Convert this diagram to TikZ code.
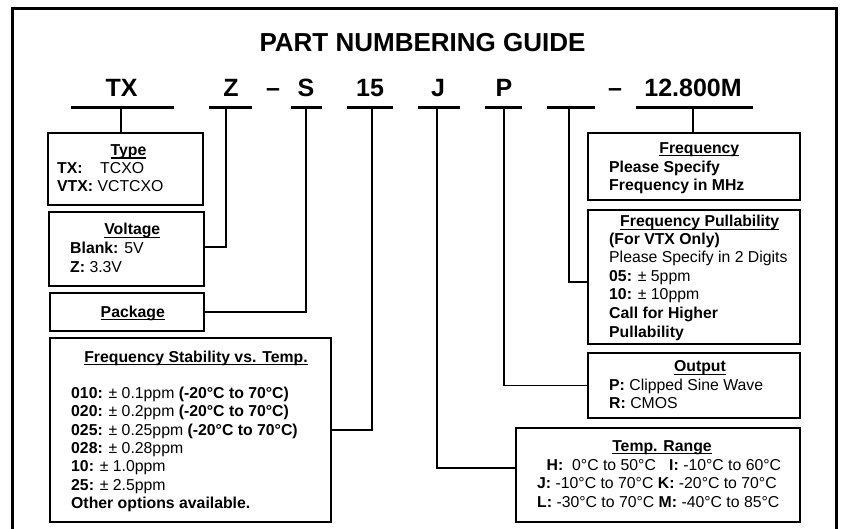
\documentclass[tikz,border=0pt]{standalone}
\usepackage{fontspec}
\setmainfont{Liberation Sans}
\newsavebox{\ulbox}
\newcommand{\Uline}[1]{\sbox{\ulbox}{#1}\rlap{\rule[-3.2pt]{\wd\ulbox}{1.3pt}}\usebox{\ulbox}}
\newcommand{\Tline}[4]{\node[txt] (#1) at (#2,#3) {#4};}
\newcommand{\Thead}[4]{\node[hd] (#1) at (#2,#3) {\Uline{#4}};}
\tikzset{
  frame/.style={line width=3pt, line join=miter},
  box/.style={draw, line width=2.5pt, inner sep=0pt, outer sep=0pt, anchor=north west},
  conn/.style={line width=1.5pt},
  uline/.style={line width=3pt},
  part/.style={font=\fontsize{25}{30}\selectfont\bfseries, inner sep=0pt, anchor=base},
  ttl/.style={font=\fontsize{26}{30}\selectfont\bfseries, inner sep=0pt, anchor=base},
  txt/.style={font=\fontsize{15.8}{18}\selectfont, inner sep=0pt, anchor=base west},
  hd/.style={font=\fontsize{15.8}{18}\selectfont\bfseries, inner sep=0pt, anchor=base},
}
\begin{document}
\begin{tikzpicture}[x=1pt, y=-1pt]
\useasboundingbox (0,0) rectangle (843,529);
% outer frame (open at the bottom)
\draw[frame] (12,531) -- (12,8.5) -- (836,8.5) -- (836,531);
% title
\node[ttl] (title) at (422.5,52) {PART NUMBERING GUIDE};
% part number row
\node[part] (pTX) at (121.5,97) {TX};
\node[part] (pZ) at (231,97) {Z};
\node[part] (pd1) at (273,97) {–};
\node[part] (pS) at (306,97) {S};
\node[part] (p15) at (370,97) {15};
\node[part] (pJ) at (438,97) {J};
\node[part] (pP) at (504,97) {P};
\node[part] (pd2) at (615,97) {–};
\node[part] (pM) at (693,97) {12.800M};
% underlines
\draw[uline] (71,107.3) -- (174,107.3);
\draw[uline] (209,107.3) -- (252,107.3);
\draw[uline] (291,107.3) -- (322,107.3);
\draw[uline] (347,107.3) -- (393,107.3);
\draw[uline] (418,107.3) -- (460,107.3);
\draw[uline] (485,107.3) -- (522,107.3);
\draw[uline] (547,107.3) -- (595,107.3);
\draw[uline] (636,107.3) -- (753,107.3);
% connector start points
\coordinate (cTX) at (121,107.3);
\coordinate (cZ) at (226,107.3);
\coordinate (cS) at (306,107.3);
\coordinate (c15) at (372,107.3);
\coordinate (cJ) at (437,107.3);
\coordinate (cP) at (504,107.3);
\coordinate (cB) at (569,107.3);
\coordinate (cM) at (693,107.3);
% boxes
\node[box, minimum width=155pt, minimum height=72pt] (type) at (48,133) {};
\node[box, minimum width=155pt, minimum height=74pt] (voltage) at (49,212) {};
\node[box, minimum width=154pt, minimum height=38pt] (package) at (50,293) {};
\node[box, minimum width=281pt, minimum height=184pt] (stab) at (50,338) {};
\node[box, minimum width=212pt, minimum height=67pt] (freq) at (588,133) {};
\node[box, minimum width=212pt, minimum height=134pt] (pull) at (588,210) {};
\node[box, minimum width=212pt, minimum height=65pt] (output) at (588,353) {};
\node[box, minimum width=284pt, minimum height=94pt] (temp) at (516,428) {};
% connectors
\draw[conn] (cTX) -- (cTX |- type.north);
\draw[conn] (cZ) |- ([yshift=2pt]voltage.east);
\draw[conn] (cS) |- (package.east);
\draw[conn] (c15) |- (stab.east);
\draw[conn] (cJ) |- ([yshift=7pt]temp.west);
\draw[conn] (cP) |- (output.west);
\draw[conn] (cB) |- ([yshift=-5pt]pull.west);
\draw[conn] (cM) -- (cM |- freq.north);
% Type
\Thead{hType}{128.5}{155.5}{Type}
\Tline{ty1}{57}{173.5}{\makebox[43pt][l]{\bfseries TX:}TCXO}
\Tline{ty2}{57}{192}{\textbf{VTX:} VCTCXO}
% Voltage
\Thead{hVolt}{132.3}{235}{Voltage}
\Tline{v1}{70}{254}{\textbf{Blank:} 5V}
\Tline{v2}{70}{272.5}{\textbf{Z:} 3.3V}
% Package
\Thead{hPack}{132.8}{317}{Package}
% Frequency stability
\Thead{hStab}{196}{362}{Frequency Stability vs. Temp.}
\Tline{s1}{71}{398}{\textbf{010:} ± 0.1ppm \textbf{(-20°C to 70°C)}}
\Tline{s2}{71}{416.5}{\textbf{020:} ± 0.2ppm \textbf{(-20°C to 70°C)}}
\Tline{s3}{71}{435}{\textbf{025:} ± 0.25ppm \textbf{(-20°C to 70°C)}}
\Tline{s4}{71}{453.3}{\textbf{028:} ± 0.28ppm}
\Tline{s5}{71}{471.7}{\textbf{10:} ± 1.0ppm}
\Tline{s6}{71}{490}{\textbf{25:} ± 2.5ppm}
\Tline{s7}{71}{508.3}{\textbf{Other options available.}}
% Frequency
\Thead{hFreq}{699.3}{153.3}{Frequency}
\Tline{f1}{609}{172.3}{\textbf{Please Specify}}
\Tline{f2}{609}{190.5}{\textbf{Frequency in MHz}}
% Frequency pullability
\Thead{hPull}{699.7}{226.7}{Frequency Pullability}
\Tline{q1}{609}{244.5}{\textbf{(For VTX Only)}}
\Tline{q2}{609}{263}{Please Specify in 2 Digits}
\Tline{q3}{609}{281.5}{\textbf{05:} ± 5ppm}
\Tline{q4}{609}{300}{\textbf{10:} ± 10ppm}
\Tline{q5}{609}{318.3}{\textbf{Call for Higher}}
\Tline{q6}{609}{337}{\textbf{Pullability}}
% Output
\Thead{hOut}{700}{371.7}{Output}
\Tline{o1}{609}{390.5}{\textbf{P:} Clipped Sine Wave}
\Tline{o2}{609}{408.5}{\textbf{R:} CMOS}
% Temp range
\Thead{hTemp}{662}{451}{Temp. Range}
\Tline{r1a}{546.5}{470}{\textbf{H:}\ \ 0°C to 50°C}
\Tline{r1b}{669}{470}{\textbf{I:} -10°C to 60°C}
\Tline{r2}{537}{488.5}{\textbf{J:} -10°C to 70°C \textbf{K:} -20°C to 70°C}
\Tline{r3}{537}{507}{\textbf{L:} -30°C to 70°C \textbf{M:} -40°C to 85°C}
\end{tikzpicture}
\end{document}
